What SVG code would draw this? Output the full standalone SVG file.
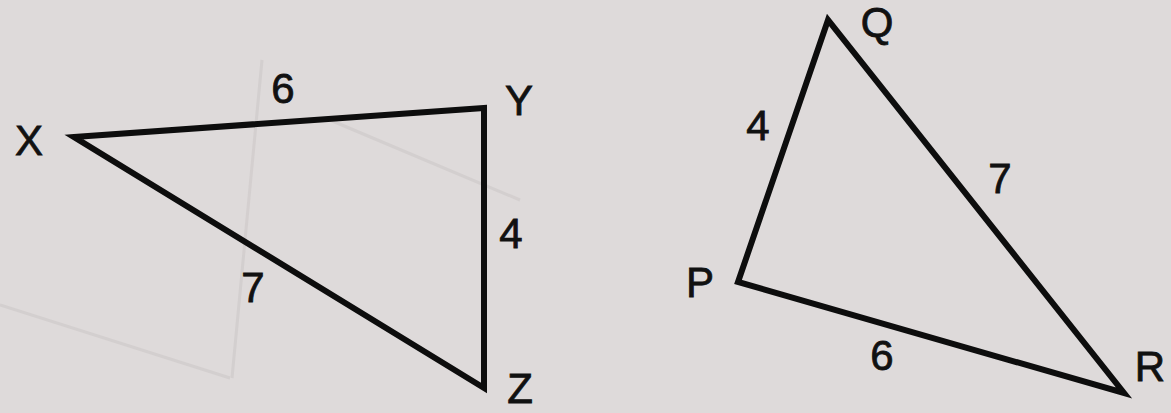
<svg xmlns="http://www.w3.org/2000/svg" width="1171" height="413" viewBox="0 0 1171 413">
  <style>
    .edge { fill: none; stroke: #0d0d0d; stroke-width: 6; stroke-linejoin: miter; stroke-miterlimit: 20; }
    .lbl { font-family: "Liberation Sans", Arial, sans-serif; font-size: 42px; fill: #111; stroke: #111; stroke-width: 0.8; text-anchor: middle; }
  </style>
  <rect x="0" y="0" width="1171" height="413" fill="#dedada"/>
  <g id="bleed" fill="none" stroke="#cdc8c8" stroke-width="3" opacity="0.6">
    <line x1="0" y1="305" x2="230" y2="378"/>
    <line x1="262" y1="60" x2="232" y2="378"/>
    <line x1="330" y1="120" x2="520" y2="200"/>
  </g>
  <g id="connectors">
    <polygon id="triangle-XYZ" class="edge" points="74,137 484,108 484,388"/>
    <polygon id="triangle-PQR" class="edge" points="828,20 738,282 1124,393"/>
  </g>
  <g id="node-X"><text class="lbl" x="29" y="155">X</text></g>
  <g id="node-Y"><text class="lbl" x="519" y="115">Y</text></g>
  <g id="node-Z"><text class="lbl" x="520" y="403">Z</text></g>
  <g id="label-XY"><text class="lbl" x="283" y="103">6</text></g>
  <g id="label-YZ"><text class="lbl" x="511" y="248">4</text></g>
  <g id="label-XZ"><text class="lbl" x="253" y="302">7</text></g>
  <g id="node-Q"><text class="lbl" x="877" y="37">Q</text></g>
  <g id="node-P"><text class="lbl" x="700" y="297">P</text></g>
  <g id="node-R"><text class="lbl" x="1150" y="381">R</text></g>
  <g id="label-PQ"><text class="lbl" x="758" y="140">4</text></g>
  <g id="label-QR"><text class="lbl" x="1000" y="193">7</text></g>
  <g id="label-PR"><text class="lbl" x="882" y="370">6</text></g>
</svg>
